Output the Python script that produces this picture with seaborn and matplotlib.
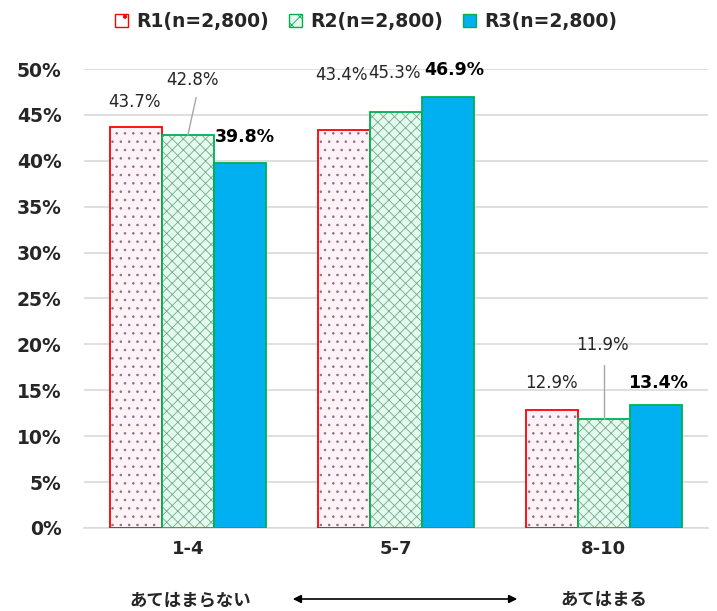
import matplotlib
matplotlib.use('Agg')
import matplotlib.pyplot as plt
import seaborn as sns
import pandas as pd
from matplotlib.colors import to_rgba
from matplotlib.patches import Patch

categories = ['1-4', '5-7', '8-10']
series = ['R1(n=2,800)', 'R2(n=2,800)', 'R3(n=2,800)']
r1 = [43.7, 43.4, 12.9]
r2 = [42.8, 45.3, 11.9]
r3 = [39.8, 46.9, 13.4]
yticks = [0, 5, 10, 15, 20, 25, 30, 35, 40, 45, 50]

sns.set_style("white")
plt.rcParams['font.family'] = ['DejaVu Sans', 'Noto Sans CJK JP']
plt.rcParams['hatch.linewidth'] = 0.6

rows = []
for s, vals in zip(series, [r1, r2, r3]):
    for c, v in zip(categories, vals):
        rows.append({'cat': c, 'series': s, 'value': v})
df = pd.DataFrame(rows)

fig = plt.figure(figsize=(7.17, 6.11), dpi=100)
ax = fig.add_axes([0.117, 0.136, 0.870, 0.751])

sns.barplot(data=df, x='cat', y='value', hue='series', order=categories,
            hue_order=series, width=0.75, gap=0, ax=ax, legend=False,
            palette=['#FDF1F6', '#E3FAEE', '#00B0F0'], zorder=3)

# styling: face, edge, hatch, hatch colour
styles = [
    dict(face='#FDF3F7', edge='#FF0000', hatch='..', hcolor='#8C6E8C'),
    dict(face='#E3FAEE', edge='#00B050', hatch='xxx', hcolor='#78A88A'),
    dict(face='#00B0F0', edge='#00B050', hatch=None, hcolor=None),
]
for cont, st in zip(ax.containers, styles):
    for bar in cont:
        bar.set_facecolor(st['face'])
        bar.set_edgecolor(st['edge'])
        bar.set_linewidth(1.3)
        if st['hatch']:
            bar.set_hatch(st['hatch'])
            bar._hatch_color = to_rgba(st['hcolor'])

ax.set_ylim(0, 50)
ax.set_xlim(-0.5, 2.5)
ax.set_yticks(yticks)
ax.set_yticklabels([f'{t}%' for t in yticks], fontsize=13.5, fontweight='bold')
ax.tick_params(axis='y', length=0, pad=16)
ax.tick_params(axis='x', length=0, pad=9)
ax.set_xticklabels(categories, fontsize=13, fontweight='bold')
ax.set_xlabel('')
ax.set_ylabel('')
ax.grid(axis='y', color='#D9D9D9', linewidth=1.2, zorder=0)
for sp in ['top', 'right', 'left']:
    ax.spines[sp].set_visible(False)
ax.spines['bottom'].set_color('#D9D9D9')
ax.spines['bottom'].set_linewidth(1.2)

# data labels
lab_r1 = [(-0.255, 46.4), (0.74, 49.3), (1.75, 15.8)]
lab_r2 = [(0.024, 48.8), (0.995, 49.6), (1.995, 19.9)]
lab_r3 = [(0.274, 42.6), (1.28, 49.9), (2.26, 15.8)]
for (x, y), v in zip(lab_r1, r1):
    ax.text(x, y, f'{v}%', ha='center', va='center', fontsize=12, color='#262626')
for (x, y), v in zip(lab_r2, r2):
    ax.text(x, y, f'{v}%', ha='center', va='center', fontsize=12, color='#262626')
for (x, y), v in zip(lab_r3, r3):
    ax.text(x, y, f'{v}%', ha='center', va='center', fontsize=12.5,
            fontweight='bold', color='#000000')

# leader lines for R2 labels
ax.plot([0.04, 0.0], [46.9, 42.8], color='#A6A6A6', lw=1, zorder=4)
ax.plot([2.0, 2.0], [17.8, 11.9], color='#A6A6A6', lw=1, zorder=4)

# legend
handles = [
    Patch(facecolor='white', edgecolor='#FF0000', hatch='.', label=series[0]),
    Patch(facecolor='#E3FAEE', edgecolor='#00B050', hatch='xx', label=series[1]),
    Patch(facecolor='#00B0F0', edgecolor='#00B050', label=series[2]),
]
fig.legend(handles=handles, loc='upper center', bbox_to_anchor=(0.511, 1.008),
           ncol=3, frameon=False, handlelength=0.7, handleheight=0.7,
           handletextpad=0.45, columnspacing=1.05,
           prop={'size': 13.5, 'weight': 'bold'})

# bottom annotations
fig.text(190 / 717, 1 - 600 / 611, 'あてはまらない', ha='center', va='center',
         fontsize=12.5, fontweight='bold', family=['Noto Sans CJK JP', 'DejaVu Sans'])
fig.text(604 / 717, 1 - 600 / 611, 'あてはまる', ha='center', va='center',
         fontsize=12.5, fontweight='bold', family=['Noto Sans CJK JP', 'DejaVu Sans'])
ax.annotate('', xy=(520 / 717, 1 - 599 / 611), xytext=(290 / 717, 1 - 599 / 611),
            xycoords='figure fraction', textcoords='figure fraction',
            arrowprops=dict(arrowstyle='<|-|>', color='black', lw=1.2,
                            mutation_scale=12))

fig.savefig('out.png', dpi=100)
